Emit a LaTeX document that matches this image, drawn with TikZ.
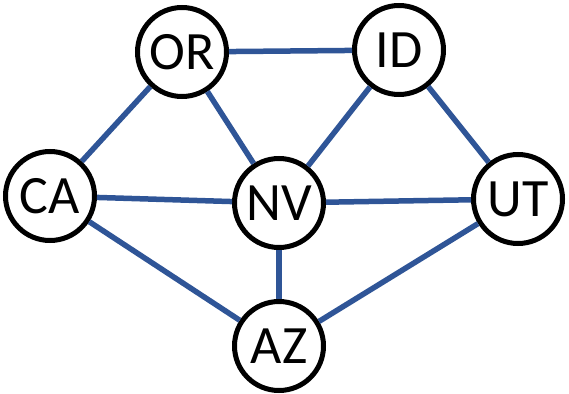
\documentclass[tikz,border=0pt]{standalone}
\usepackage{fontspec}
\setmainfont{Carlito}
\usetikzlibrary{positioning}
\definecolor{roadblue}{RGB}{47,85,151}
\tikzset{>=stealth}
\tikzset{state/.style={circle,draw=black,line width=5pt,fill=white,minimum size=89pt,inner sep=0pt,font=\fontsize{54}{64}\selectfont},
road/.style={draw=roadblue,line width=5.5pt}}

\begin{document}
\begin{tikzpicture}[x=1pt,y=-1pt]
\useasboundingbox (0,0) rectangle (569,393);
\node[state] (OR) at (182,52) {OR};
\node[state] (ID) at (399,50) {ID};
\node[state] (CA) at (50,196) {CA};
\node[state] (NV) at (279,203) {NV};
\node[state] (UT) at (518,199) {UT};
\node[state] (AZ) at (279,346) {AZ};
\foreach \a/\b in {OR/ID,OR/CA,OR/NV,ID/NV,ID/UT,CA/NV,NV/UT,CA/AZ,NV/AZ,UT/AZ}{
\draw[road] (\a) -- (\b);
}
\end{tikzpicture}
\end{document}
